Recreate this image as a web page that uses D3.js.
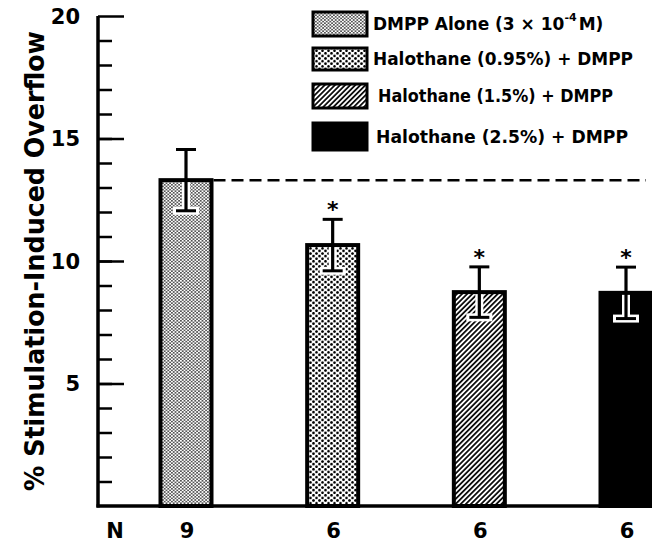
<!DOCTYPE html>
<html><head><meta charset="utf-8">
<script src="https://cdn.jsdelivr.net/npm/d3@7"></script>
<style>
html,body{margin:0;padding:0;background:#fff;}
svg{display:block;}
text{font-family:"DejaVu Sans",sans-serif;font-weight:bold;fill:#000;}
</style></head>
<body>
<script>
// ---- data ----
const groups = ["DMPP Alone", "Halothane (0.95%) + DMPP", "Halothane (1.5%) + DMPP", "Halothane (2.5%) + DMPP"];
const means = [13.3, 10.65, 8.73, 8.7];
const sems = [1.25, 1.05, 1.03, 1.05];
const nValues = ["9", "6", "6", "6"];
const significant = [false, true, true, true];
const yTicks = [5, 10, 15, 20];
const yLabel = "% Stimulation-Induced Overflow";
const patterns = ["dotsFine", "dotsCoarse", "hatch", "solid"];

const W = 652, H = 548;
const svg = d3.select("body").append("svg").attr("width", W).attr("height", H);

const defs = svg.append("defs");
// fine dots
let p = defs.append("pattern").attr("id","dotsFine").attr("patternUnits","userSpaceOnUse")
  .attr("width",3.6).attr("height",3.2);
p.append("rect").attr("width",3.6).attr("height",3.2).attr("fill","#fff");
p.append("circle").attr("cx",0.9).attr("cy",0.8).attr("r",0.8).attr("fill","#000");
p.append("circle").attr("cx",2.7).attr("cy",2.4).attr("r",0.8).attr("fill","#000");
// coarse dots
p = defs.append("pattern").attr("id","dotsCoarse").attr("patternUnits","userSpaceOnUse")
  .attr("width",6).attr("height",5.2);
p.append("rect").attr("width",6).attr("height",5.2).attr("fill","#fff");
p.append("circle").attr("cx",1.5).attr("cy",1.3).attr("r",1.35).attr("fill","#000");
p.append("circle").attr("cx",4.5).attr("cy",3.9).attr("r",1.35).attr("fill","#000");
// hatch
p = defs.append("pattern").attr("id","hatch").attr("patternUnits","userSpaceOnUse")
  .attr("width",3.6).attr("height",3.6).attr("patternTransform","rotate(45)");
p.append("rect").attr("width",3.6).attr("height",3.6).attr("fill","#fff");
p.append("line").attr("x1",1.8).attr("x2",1.8).attr("y1",0).attr("y2",3.6)
  .attr("stroke","#000").attr("stroke-width",1.7);
const fillOf = k => patterns[k] === "solid" ? "#000" : `url(#${patterns[k]})`;

// ---- scales ----
const y = d3.scaleLinear().domain([0, 20]).range([506, 16]);
const x = d3.scalePoint().domain(groups).range([186, 626]);
const bw = 51;
const axisX = 98;

// ---- bars ----
const g = svg.append("g");
groups.forEach((grp, i) => {
  const cx = x(grp);
  g.append("rect")
    .attr("x", cx - bw/2).attr("y", y(means[i]))
    .attr("width", bw).attr("height", y(0) - y(means[i]))
    .attr("fill", fillOf(i)).attr("stroke", "#000").attr("stroke-width", 4);
});

// reference dashed line at control mean
svg.append("line")
  .attr("x1", x(groups[0]) + bw/2 + 2).attr("x2", 646)
  .attr("y1", y(means[0])).attr("y2", y(means[0]))
  .attr("stroke", "#000").attr("stroke-width", 2.5).attr("stroke-dasharray", "12,6");

// ---- error bars ----
groups.forEach((grp, i) => {
  const cx = x(grp), hi = y(means[i] + sems[i]), lo = y(means[i] - sems[i]), m = y(means[i]);
  const cw = 10;
  g.append("line").attr("x1",cx).attr("x2",cx).attr("y1",m+2).attr("y2",lo)
    .attr("stroke","#fff").attr("stroke-width",8);
  g.append("line").attr("x1",cx-cw-3).attr("x2",cx+cw+3).attr("y1",lo).attr("y2",lo)
    .attr("stroke","#fff").attr("stroke-width",8);
  g.append("line").attr("x1",cx).attr("x2",cx).attr("y1",hi).attr("y2",lo)
    .attr("stroke","#000").attr("stroke-width",3.2);
  g.append("line").attr("x1",cx-cw).attr("x2",cx+cw).attr("y1",hi).attr("y2",hi)
    .attr("stroke","#000").attr("stroke-width",3);
  g.append("line").attr("x1",cx-cw).attr("x2",cx+cw).attr("y1",lo).attr("y2",lo)
    .attr("stroke","#000").attr("stroke-width",3);
  if (significant[i]) {
    g.append("text").attr("x", cx).attr("y", hi - 2).attr("text-anchor","middle")
      .attr("font-size", 22).text("*");
  }
});

// ---- axes ----
const yAxisMinor = d3.axisRight(y).tickValues(d3.range(1, 20)).tickSize(14).tickFormat("");
const ya = svg.append("g").attr("transform", `translate(${axisX},0)`).call(yAxisMinor);
ya.select(".domain").remove();
ya.selectAll(".tick line").attr("stroke","#000").attr("stroke-width",2.5);
const yAxisMajor = d3.axisRight(y).tickValues(yTicks).tickSize(26).tickFormat("");
const yb = svg.append("g").attr("transform", `translate(${axisX},0)`).call(yAxisMajor);
yb.select(".domain").remove();
yb.selectAll(".tick line").attr("stroke","#000").attr("stroke-width",2.5);
svg.append("line").attr("x1",axisX).attr("x2",axisX).attr("y1",y(20)).attr("y2",y(0)+1.5)
  .attr("stroke","#000").attr("stroke-width",3.5);
svg.append("line").attr("x1",axisX-1.5).attr("x2",W).attr("y1",y(0)).attr("y2",y(0))
  .attr("stroke","#000").attr("stroke-width",3.5);
svg.append("g").selectAll("text").data(yTicks).join("text")
  .attr("x", 80).attr("y", d => y(d)).attr("dy","0.36em")
  .attr("text-anchor","end").attr("font-size",21).text(d => d);

// y label
svg.append("text")
  .attr("transform", `translate(44,${261}) rotate(-90)`)
  .attr("text-anchor","middle").attr("font-size",27)
  .attr("textLength",460).attr("lengthAdjust","spacingAndGlyphs")
  .text(yLabel);

// N row
svg.append("text").attr("x",115).attr("y",530).attr("dy","0.36em")
  .attr("text-anchor","middle").attr("font-size",21).text("N");
svg.append("g").selectAll("text").data(groups).join("text")
  .attr("x", d => x(d) + 1).attr("y", 530).attr("dy","0.36em")
  .attr("text-anchor","middle").attr("font-size",21).text((d,i) => nValues[i]);

// ---- legend ----
const legY = [12, 48, 84, 123];
const legH = [24, 22, 24, 27];
const legTX = [373, 373, 378, 376];
const legTL = [237, 260, 235, 252];
const lg = svg.append("g");
groups.forEach((grp, i) => {
  lg.append("rect").attr("x", 313).attr("y", legY[i]).attr("width", 54).attr("height", legH[i])
    .attr("fill", fillOf(i)).attr("stroke","#000").attr("stroke-width",3);
  const t = lg.append("text").attr("x", legTX[i]).attr("y", legY[i] + legH[i]/2).attr("dy","0.36em")
    .attr("font-size",18);
  if (i === 0) {
    t.attr("font-size",17);
    t.append("tspan").text("DMPP Alone (3 × 10");
    t.append("tspan").attr("font-size",11).attr("dy","-0.8em").text("-4");
    t.append("tspan").attr("dy","0.5em").attr("dx","2").text("M)");
  } else {
    t.attr("textLength", legTL[i]).attr("lengthAdjust","spacingAndGlyphs").text(grp);
  }
});
</script>
</body></html>
